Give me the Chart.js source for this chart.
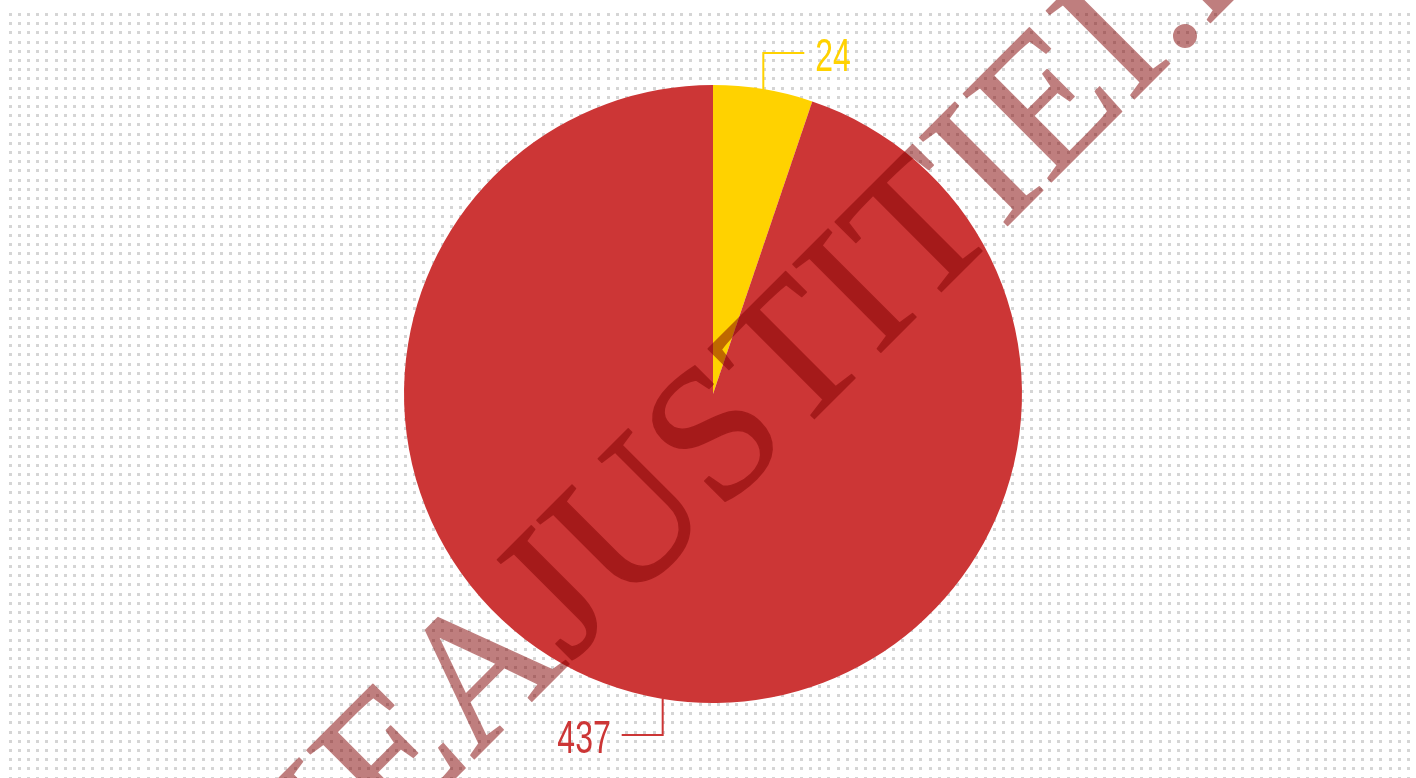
<!DOCTYPE html>
<html>
<head>
<meta charset="utf-8">
<style>
html, body { margin: 0; padding: 0; background: #fff; overflow: hidden; }
canvas { display: block; }
</style>
<script src="https://cdn.jsdelivr.net/npm/chart.js@4.4.1/dist/chart.umd.min.js"></script>
</head>
<body>
<canvas id="myChart" width="1416" height="778"></canvas>
<script>
// ..........date..........
const categorii = ['Categoria 1', 'Categoria 2'];
const valori = [24, 437];
const culori = ['#FFD200', '#CC3636'];
const filigran = ['LUMEA', 'JUSTITIEI.ro'];

// ..........fundal cu puncte..........
const fundalPuncte = {
    id: 'fundalPuncte',
    beforeDraw(chart) {
        const c = chart.ctx;
        c.save();
        c.fillStyle = '#fff';
        c.fillRect(0, 0, chart.width, chart.height);
        c.fillStyle = '#d5d5d5';
        for (let y = 13; y < chart.height; y += 9.2) {
            for (let x = 8.5; x < chart.width; x += 9.2) {
                c.fillRect(Math.round(x), Math.round(y), 3, 3);
            }
        }
        c.restore();
    }
};

// ..........etichete cu linii..........
const etichete = {
    id: 'etichete',
    afterDatasetsDraw(chart) {
        const c = chart.ctx;
        const meta = chart.getDatasetMeta(0);
        meta.data.forEach((arc, i) => {
            const p = arc.getProps(['x', 'y', 'startAngle', 'endAngle', 'outerRadius'], true);
            const mid = (p.startAngle + p.endAngle) / 2;
            const x0 = p.x + Math.cos(mid) * p.outerRadius;
            const y0 = p.y + Math.sin(mid) * p.outerRadius;
            const sy = Math.sin(mid) < 0 ? -1 : 1;
            const sx = Math.cos(mid) < 0 ? -1 : 1;
            const y1 = y0 + sy * 36;
            const x1 = x0 + sx * 41;
            c.save();
            c.strokeStyle = culori[i];
            c.lineWidth = 2;
            c.beginPath();
            c.moveTo(x0, y0);
            c.lineTo(x0, y1);
            c.lineTo(x1, y1);
            c.stroke();
            c.font = '47px "Liberation Sans", Arial, sans-serif';
            c.translate(x1 + sx * 11, y1 + 18);
            c.scale(0.68, 1);
            c.textAlign = sx < 0 ? 'right' : 'left';
            c.textBaseline = 'alphabetic';
            c.fillStyle = culori[i];
            c.fillText(String(valori[i]), 0, 0);
            c.restore();
        });
    }
};

// ..........filigran (strat separat, apoi transparent)..........
function punctPeLinie(s) {
    // linia de baza a filigranului: x + y = 1233, inclinata la -45 grade
    return [(1233 + s * Math.SQRT2) / 2, (1233 - s * Math.SQRT2) / 2];
}

const watermark = {
    id: 'watermark',
    afterDraw(chart) {
        const strat = document.createElement('canvas');
        strat.width = chart.width;
        strat.height = chart.height;
        const s2 = strat.getContext('2d');
        s2.font = '190px "Liberation Serif", "Times New Roman", serif';
        s2.fillStyle = '#800000';
        s2.strokeStyle = '#800000';
        s2.lineWidth = 1.5;
        s2.lineJoin = 'round';
        s2.textAlign = 'left';
        s2.textBaseline = 'alphabetic';
        const starturi = [-203 - s2.measureText('LUME').width, -66];
        filigran.forEach((cuv, i) => {
            const [x, y] = punctPeLinie(starturi[i]);
            s2.save();
            s2.translate(x, y);
            s2.rotate(-Math.PI / 4);
            s2.fillText(cuv, 0, 0);
            s2.strokeText(cuv, 0, 0);
            s2.restore();
        });

        const c = chart.ctx;
        c.save();
        c.globalAlpha = 0.5;
        c.drawImage(strat, 0, 0);
        c.restore();
    }
};

const ctx = document.getElementById('myChart').getContext('2d');
const chart = new Chart(ctx, {
    type: 'pie',
    data: {
        labels: categorii,
        datasets: [{
            data: valori,
            backgroundColor: culori,
            borderWidth: 0
        }]
    },
    options: {
        responsive: false,
        animation: false,
        devicePixelRatio: 1,
        layout: {
            padding: { top: 85, bottom: 75, left: 10, right: 0 }
        },
        plugins: {
            legend: { display: false },
            tooltip: { enabled: false }
        }
    },
    plugins: [fundalPuncte, etichete, watermark]
});
</script>
</body>
</html>
